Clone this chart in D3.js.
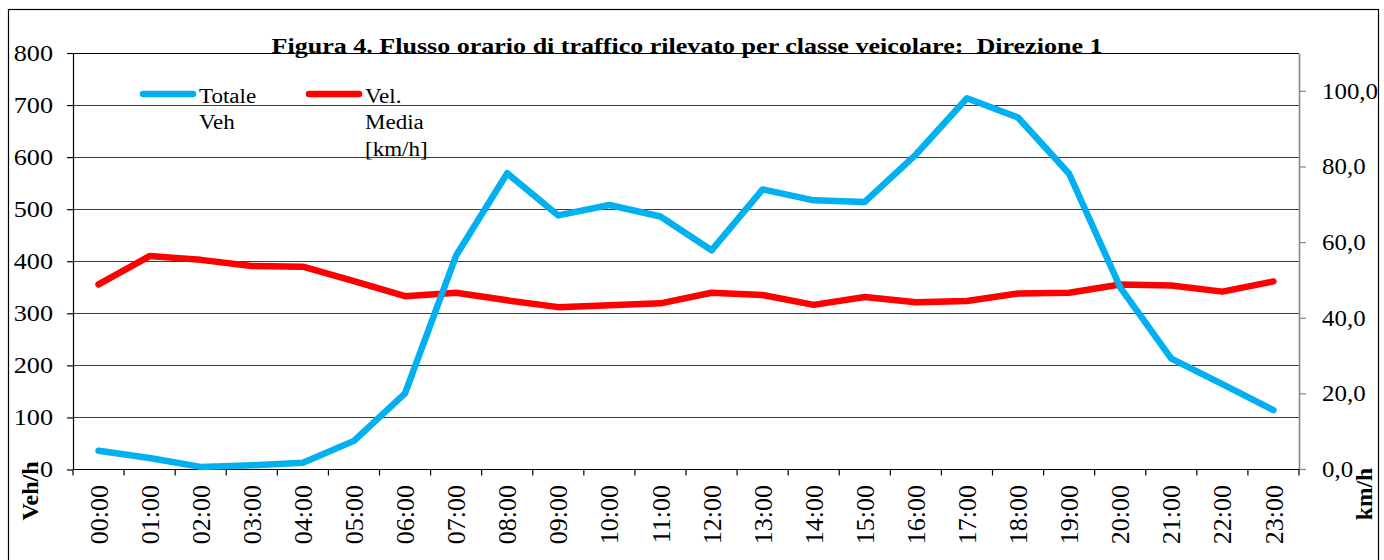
<!DOCTYPE html>
<html>
<head>
<meta charset="utf-8">
<script src="https://cdn.jsdelivr.net/npm/d3@7"></script>
<style>
  body { margin: 0; background: #fff; }
  svg text { font-family: "Liberation Serif", "Times New Roman", serif; fill: #000; }
</style>
</head>
<body>
<svg id="chart" width="1384" height="560"></svg>
<script>
const hours = ['00:00', '01:00', '02:00', '03:00', '04:00', '05:00', '06:00', '07:00',
  '08:00', '09:00', '10:00', '11:00', '12:00', '13:00', '14:00', '15:00',
  '16:00', '17:00', '18:00', '19:00', '20:00', '21:00', '22:00', '23:00'];
const totaleVeh = [36, 22, 5, 8, 13, 55, 146, 411, 569, 488, 508, 486,
  421, 538, 517, 514, 605, 713, 676, 568, 350, 213, 164, 114];
const velMedia = [48.8, 56.3, 55.3, 53.7, 53.5, 49.7, 45.7, 46.6, 44.6, 42.8, 43.3, 43.8,
  46.6, 46.0, 43.4, 45.5, 44.1, 44.4, 46.4, 46.6, 48.8, 48.5, 46.9, 49.6];
const leftTicks = [0, 100, 200, 300, 400, 500, 600, 700, 800];
const rightTicks = [0, 20, 40, 60, 80, 100];
const title = 'Figura 4. Flusso orario di traffico rilevato per classe veicolare:  Direzione 1';

const svg = d3.select('#chart');
const margin = { top: 53, right: 85, bottom: 91, left: 73 };
const width = 1384, height = 560;
const blue = '#00b0f0', red = '#ff0000';

// widen glyphs a little, the source picture is stretched sideways
function stretch(sel, k) {
  sel.each(function () {
    const w = this.getComputedTextLength();
    d3.select(this).attr('textLength', w * k).attr('lengthAdjust', 'spacingAndGlyphs');
  });
}

const x = d3.scaleBand()
  .domain(hours)
  .range([margin.left, width - margin.right])
  .padding(0);
const cx = d => x(d) + x.bandwidth() / 2;

const y = d3.scaleLinear()
  .domain([0, 800])
  .range([height - margin.bottom + 0.5, margin.top]);

const y2 = d3.scaleLinear()
  .domain([0, 110])
  .range([height - margin.bottom, margin.top]);

const itFormat = d3.formatLocale({ decimal: ',', thousands: '.', grouping: [3], currency: ['€', ''] }).format('.1f');

// outer frame
svg.append('rect')
  .attr('x', 8.5).attr('y', 9.5)
  .attr('width', 1370).attr('height', 600)
  .attr('fill', 'none').attr('stroke', '#000').attr('stroke-width', 1.2);

// gridlines
svg.append('g')
  .selectAll('line')
  .data(leftTicks.filter(d => d > 0))
  .enter()
  .append('line')
  .attr('x1', margin.left).attr('x2', width - margin.right)
  .attr('y1', d => Math.round(y(d)) + 0.5).attr('y2', d => Math.round(y(d)) + 0.5)
  .attr('stroke', d => d === 800 ? '#000' : '#3c3c3c').attr('stroke-width', 1.2);

// left axis
const gl = svg.append('g')
  .attr('transform', `translate(${margin.left},0)`)
  .call(d3.axisLeft(y).tickValues(leftTicks).tickSize(6).tickSizeOuter(0).tickPadding(14));
gl.select('.domain').attr('stroke', '#000').attr('stroke-width', 1.2);
gl.selectAll('.tick line').attr('stroke', '#000').attr('stroke-width', 1.2);
gl.selectAll('.tick text').style('font-size', '23px').attr('fill', '#000').call(stretch, 1.14);

// right axis
const gr = svg.append('g')
  .attr('transform', `translate(${width - margin.right},0)`)
  .call(d3.axisRight(y2).tickValues(rightTicks).tickFormat(itFormat).tickSize(7).tickSizeOuter(0).tickPadding(16));
gr.select('.domain').attr('stroke', '#868686').attr('stroke-width', 1.6);
gr.selectAll('.tick line').attr('stroke', '#868686').attr('stroke-width', 1.2);
gr.selectAll('.tick text').style('font-size', '23.5px').attr('fill', '#000').call(stretch, 1.06);

// bottom axis: ticks on category boundaries, labels at centres
const x0 = height - margin.bottom + 0.5;
svg.append('line')
  .attr('x1', margin.left).attr('x2', width - margin.right)
  .attr('y1', x0).attr('y2', x0)
  .attr('stroke', '#000').attr('stroke-width', 1.2);
svg.append('g')
  .selectAll('line')
  .data(hours.map(d => x(d)).concat([x.range()[1]]))
  .enter()
  .append('line')
  .attr('x1', d => d).attr('x2', d => d)
  .attr('y1', x0).attr('y2', x0 + 6)
  .attr('stroke', '#000').attr('stroke-width', 1.2);
svg.append('g')
  .selectAll('text')
  .data(hours)
  .enter()
  .append('text')
  .attr('transform', d => `translate(${cx(d)},485) rotate(-90)`)
  .attr('dy', '0.35em')
  .attr('text-anchor', 'end')
  .style('font-size', '26px')
  .text(d => d);

// axis titles
svg.append('text')
  .attr('transform', 'translate(38,491) rotate(-90)')
  .attr('text-anchor', 'middle')
  .style('font-size', '24px').style('font-weight', 'bold')
  .text('Veh/h');
svg.append('text')
  .attr('transform', 'translate(1372,494) rotate(-90)')
  .attr('text-anchor', 'middle')
  .style('font-size', '23.5px').style('font-weight', 'bold')
  .text('km/h');

// series
const lineVel = d3.line().x((d, i) => cx(hours[i])).y(d => y2(d));
const lineVeh = d3.line().x((d, i) => cx(hours[i])).y(d => y(d));

svg.append('path')
  .datum(velMedia)
  .attr('fill', 'none').attr('stroke', red).attr('stroke-width', 6.5)
  .attr('stroke-linejoin', 'round').attr('stroke-linecap', 'round')
  .attr('d', lineVel);

svg.append('path')
  .datum(totaleVeh)
  .attr('fill', 'none').attr('stroke', blue).attr('stroke-width', 6.5)
  .attr('stroke-linejoin', 'round').attr('stroke-linecap', 'round')
  .attr('d', lineVeh);

// title
svg.append('text')
  .attr('x', 687).attr('y', 53)
  .attr('text-anchor', 'middle')
  .style('font-size', '22px').style('font-weight', 'bold')
  .style('white-space', 'pre')
  .attr('textLength', 831).attr('lengthAdjust', 'spacingAndGlyphs')
  .text(title);

// legend
const legend = [
  { color: blue, x: 140, lines: ['Totale', 'Veh'] },
  { color: red, x: 306, lines: ['Vel.', 'Media', '[km/h]'] }
];
const lg = svg.append('g');
legend.forEach(item => {
  lg.append('line')
    .attr('x1', item.x + 3).attr('x2', item.x + 53)
    .attr('y1', 94).attr('y2', 94)
    .attr('stroke', item.color).attr('stroke-width', 6.5).attr('stroke-linecap', 'round');
  lg.append('g').selectAll('text')
    .data(item.lines)
    .enter()
    .append('text')
    .attr('x', item.x + 59)
    .attr('y', (d, i) => 102.7 + i * 26.6)
    .style('font-size', '20px')
    .text(d => d)
    .call(stretch, 1.15);
});
</script>
</body>
</html>
